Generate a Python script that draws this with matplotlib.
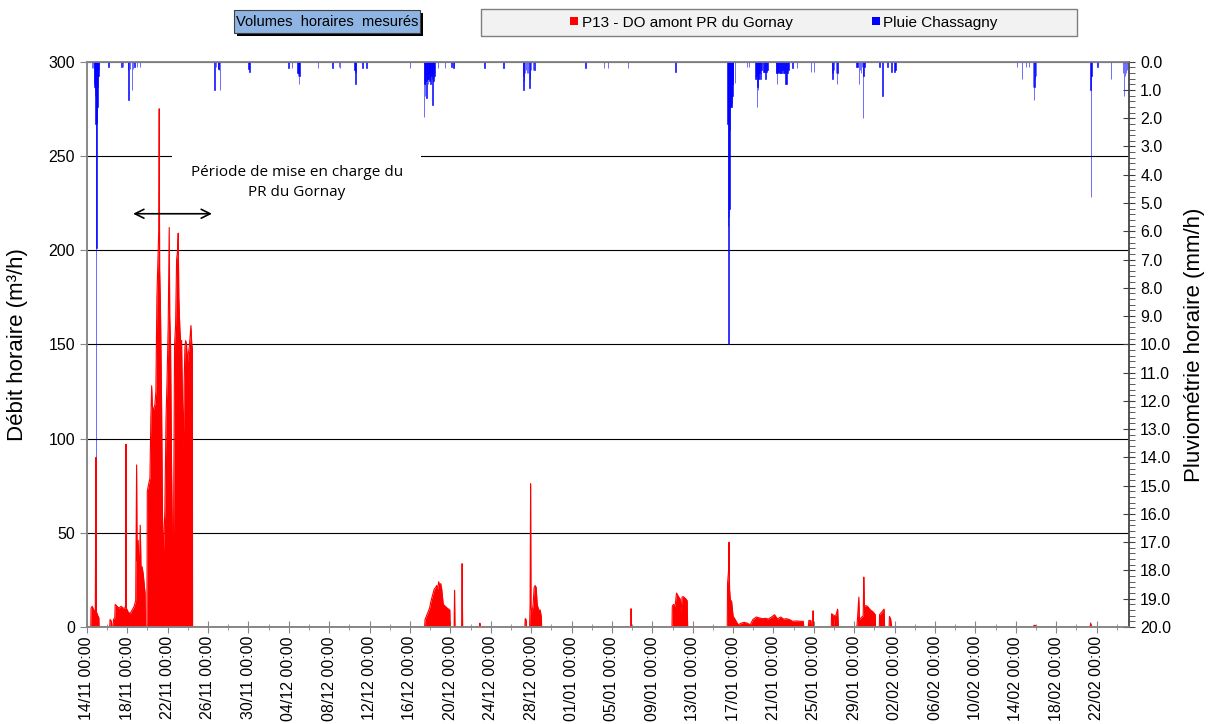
import datetime as dt
import numpy as np
import matplotlib
matplotlib.use('Agg')
import matplotlib.pyplot as plt
import matplotlib.dates as mdates
import matplotlib.ticker as ticker
from matplotlib.patches import Patch, Rectangle

plt.rcParams['font.family'] = ['Liberation Sans', 'DejaVu Sans']

debut = dt.datetime(2016, 11, 14)

# Débit P13 - DO amont PR du Gornay (jours depuis le 14/11 00:00 ; m3/h)
debit_jours = [
    0.40, 0.43, 0.55, 0.70, 0.85, 0.92, 0.96, 1.10, 1.20, 1.22,
    2.28, 2.31, 2.45, 2.50,
    2.62, 2.65, 2.78, 2.82, 3.00, 3.20, 3.40, 3.60, 3.80, 3.86, 3.89, 3.92, 4.10, 4.30, 4.50,
    4.70, 4.85, 4.94, 4.99, 5.10, 5.20, 5.30, 5.38, 5.48, 5.60, 5.70, 5.78, 5.82, 5.96,
    6.00, 6.10, 6.26, 6.35, 6.43, 6.50, 6.60, 6.75, 6.85, 6.95, 7.05, 7.13, 7.18, 7.22,
    7.30, 7.41, 7.50, 7.58, 7.66, 7.74, 7.85, 7.95, 8.07, 8.17, 8.22, 8.30, 8.40, 8.50,
    8.57, 8.62, 8.70, 8.80, 8.90, 9.00, 9.06, 9.12, 9.23, 9.32, 9.39, 9.48, 9.56, 9.65,
    9.72, 9.80, 9.88, 9.97, 10.05, 10.15, 10.25, 10.32, 10.40, 10.46, 10.48,
    33.45, 33.50, 33.65, 33.80, 33.95, 34.10, 34.25, 34.40, 34.55, 34.65, 34.75, 34.85,
    34.95, 35.05, 35.15, 35.30, 35.50, 35.70, 35.95, 35.98,
    36.38, 36.42, 36.46, 37.12, 37.17, 37.22, 38.90, 38.93, 38.97,
    43.38, 43.42, 43.50, 43.55, 43.85, 43.90, 43.95, 43.99, 44.10, 44.20, 44.30, 44.40,
    44.50, 44.60, 44.75, 44.90, 45.02, 45.04,
    53.86, 53.90, 53.94,
    57.95, 57.98, 58.10, 58.25, 58.40, 58.50, 58.60, 58.75, 58.85, 58.95, 59.10, 59.30,
    59.45, 59.50,
    63.42, 63.45, 63.55, 63.60, 63.65, 63.72, 63.85, 64.00, 64.20, 64.50, 64.80, 65.10,
    65.40, 65.70, 65.95, 66.30, 66.60, 66.90, 67.20, 67.50, 67.80, 68.10, 68.40, 68.70,
    69.00, 69.30, 69.60, 69.90, 70.30, 70.70, 70.95, 71.00,
    71.45, 71.50, 71.70, 71.75, 71.88, 71.92, 71.96,
    73.72, 73.75, 73.90, 73.98, 74.05, 74.20, 74.35, 74.42,
    76.25, 76.30, 76.45, 76.50, 76.70, 76.88, 76.94, 77.00, 77.15, 77.30, 77.45, 77.60,
    77.80, 77.95, 78.08, 78.10,
    78.48, 78.50, 78.70, 78.85, 78.95, 79.00,
    79.45, 79.48, 79.60, 79.70,
    93.70, 93.80, 93.95, 94.00,
    99.35, 99.40, 99.50,
]
debit_val = [
    0, 10, 11, 9, 8, 90, 8, 6, 5, 0,
    0, 4, 3, 0,
    0, 4, 5, 12, 11, 10, 11, 10, 10, 12, 97, 10, 8, 7, 9,
    11, 14, 86, 35, 46, 22, 54, 30, 32, 28, 22, 18, 0, 0,
    72, 75, 79, 110, 128, 117, 115, 118, 125, 175, 195, 210, 275, 190,
    170, 120, 60, 36, 50, 62, 110, 130, 160, 212, 165, 150, 85, 40,
    25, 70, 150, 160, 195, 200, 209, 175, 157, 150, 152, 120, 92, 130,
    148, 152, 150, 140, 145, 148, 155, 160, 150, 148, 0,
    0, 4, 6, 8, 10, 14, 17, 20, 21, 22, 20, 24,
    22, 23, 20, 12, 11, 10, 9, 0,
    0, 19.5, 0, 0, 33.6, 0, 0, 2, 0,
    0, 4.4, 4, 0, 0, 12, 76, 10, 8, 12, 21, 22,
    21, 12, 9, 9, 5, 0,
    0, 9.7, 0,
    0, 11, 12, 11, 18, 17, 16, 15, 8, 16, 16, 15,
    14, 0,
    0, 23, 30, 45, 20, 14.5, 13.6, 5.7, 4, 1.2, 2, 2.5,
    2, 1.2, 3.9, 5.3, 4.8, 4.4, 4.6, 4.2, 5.3, 6.5, 4.2, 5.3,
    4.2, 4.4, 3.9, 3.0, 3.2, 3.0, 3.0, 0,
    0, 3.5, 3.4, 0, 0, 8.6, 0,
    0, 7, 6.5, 0, 6, 6.5, 9.5, 0,
    0, 3, 15.9, 4, 5, 6, 26.5, 11, 11.3, 11, 10, 9,
    8.3, 7.4, 6.5, 0,
    0, 6.5, 7.8, 8.8, 9.5, 0,
    0, 5.6, 4.2, 0,
    0, 0.9, 0.8, 0,
    0, 2.1, 0,
]

# Pluie Chassagny (jours depuis le 14/11 00:00 ; mm/h)
pluie_jours = [
    0.55, 0.62, 0.72, 0.76, 0.80, 0.84, 0.88, 0.92, 0.96, 1.00, 1.04, 1.08, 1.12, 1.17, 1.22,
    2.14, 3.45, 3.62, 4.10, 4.15, 4.30, 4.47, 4.60, 4.75, 5.00, 5.30,
    12.65, 12.80, 13.00, 13.05, 13.10, 13.20,
    16.00, 16.10, 20.00, 20.30,
    20.85, 20.90, 20.95, 21.00, 21.05,
    22.90, 24.35, 25.00, 25.10,
    26.50, 26.55, 26.60, 26.65, 27.30, 27.70,
    32.00,
    33.40, 33.44, 33.48, 33.52, 33.56, 33.60, 33.64, 33.68, 33.72, 33.76, 33.80, 33.84,
    33.88, 33.92, 33.96, 34.00, 34.04, 34.08, 34.12, 34.16, 34.20, 34.24, 34.28, 34.32,
    34.36, 34.40, 34.45,
    34.80, 35.45, 36.10, 36.30, 36.35,
    39.40, 41.25,
    43.20, 43.25, 43.30, 43.40, 43.50, 43.60, 43.70, 43.85, 43.90, 44.00, 44.20, 44.35,
    49.40,
    51.20, 51.60, 53.60, 58.30,
    63.44, 63.48, 63.52, 63.56, 63.60, 63.64, 63.68, 63.72, 63.76, 63.80, 63.84, 63.88,
    63.92, 63.96, 64.00, 64.20,
    65.40, 65.60,
    66.20, 66.25, 66.30, 66.35, 66.40, 66.45, 66.50, 66.55, 66.60, 66.70, 66.80, 67.00,
    67.10, 67.20, 67.30, 67.40,
    68.25, 68.30, 68.35, 68.40, 68.50, 68.60, 68.70, 68.80, 68.90, 69.00, 69.10, 69.20,
    69.30, 69.40, 69.50,
    69.90, 70.30, 71.70, 72.00,
    73.80, 73.85, 73.90, 74.00, 74.20, 74.30, 74.35,
    76.20, 76.30, 76.45, 76.55, 76.65, 76.75, 76.85, 76.90, 77.00,
    78.50, 78.80, 79.30, 79.70, 80.00, 80.10,
    92.10, 92.60, 93.00, 93.30, 93.70, 93.80, 93.85, 93.90, 94.00,
    99.40, 99.45, 99.50, 100.10, 101.40, 102.60, 102.70, 102.80, 102.90, 103.00,
]
pluie_mm = [
    0.24, 0.24, 0.8, 0.9, 1.0, 1.2, 2.2, 14.0, 6.6, 2.2, 2.15, 1.6, 0.9, 0.5, 0.3,
    0.2, 0.2, 0.2, 0.3, 1.35, 0.25, 1.0, 0.25, 0.2, 0.2, 0.2,
    1.0, 0.2, 0.25, 0.25, 0.3, 1.0,
    0.25, 0.38, 0.24, 0.24,
    0.4, 0.5, 0.4, 0.8, 0.5,
    0.24, 0.24, 0.2, 0.24,
    0.3, 0.4, 0.8, 0.35, 0.24, 0.24,
    0.24,
    1.95, 0.8, 1.2, 0.8, 0.7, 0.5, 1.3, 0.7, 0.6, 0.6, 0.8, 0.6,
    0.5, 0.4, 0.7, 0.6, 0.8, 0.5, 0.5, 0.4, 0.6, 1.55, 0.6, 0.7,
    0.4, 0.3, 0.5,
    0.24, 0.24, 0.2, 0.24, 0.2,
    0.24, 0.24,
    0.5, 1.0, 0.7, 0.4, 0.3, 0.4, 0.4, 0.94, 0.6, 0.3, 0.3, 0.3,
    0.24,
    0.24, 0.24, 0.24, 0.35,
    2.2, 2.1, 5.8, 10.0, 5.5, 5.2, 1.6, 2.4, 1.6, 1.6, 1.6, 1.5,
    1.2, 0.8, 0.5, 0.77,
    0.2, 0.18,
    0.6, 0.6, 0.5, 1.6, 0.9, 1.0, 0.6, 0.6, 0.4, 0.6, 0.3, 0.35,
    0.35, 0.6, 0.35, 0.3,
    0.4, 0.4, 0.8, 0.4, 0.35, 0.4, 0.4, 0.4, 0.3, 0.4, 0.4, 0.8,
    0.8, 0.4, 0.3,
    0.24, 0.24, 0.35, 0.35,
    0.4, 0.6, 0.4, 0.3, 0.4, 0.8, 0.4,
    0.18, 0.18, 0.8, 0.3, 0.4, 0.2, 2.0, 0.5, 0.2,
    0.2, 1.2, 0.2, 0.35, 0.35, 0.3,
    0.2, 0.6, 0.2, 0.2, 0.9, 1.35, 0.9, 0.6, 0.5,
    1.0, 4.8, 0.5, 0.2, 0.6, 0.4, 1.2, 0.5, 0.4, 0.3,
]

t0 = mdates.date2num(debut)
x_debit = t0 + np.array(debit_jours)
x_pluie = t0 + np.array(pluie_jours)

gris = '#868686'

fig = plt.figure(figsize=(12.11, 7.24), dpi=100)
ax = fig.add_axes([0.0716, 0.134, 0.8607, 0.7808])
ax2 = ax.twinx()

ax.fill_between(x_debit, 0, debit_val, color='#ff0000', lw=0, zorder=2)
# contour pour que les pics d'une heure restent visibles (la partie à 0 est cachée par l'axe)
ax.plot(x_debit, debit_val, color='#ff0000', lw=0.8, zorder=2)
ax2.bar(x_pluie, pluie_mm, width=1 / 24, color='#0000ff', edgecolor='#0000ff', linewidth=0.4)

ax.set_xlim(t0, t0 + 103.2)
ax.set_ylim(0, 300)
ax2.set_ylim(20, 0)

ax.set_axisbelow(True)
ax.yaxis.grid(True, color='black', lw=0.8)
ax.yaxis.set_major_locator(ticker.MultipleLocator(50))
ax2.yaxis.set_major_locator(ticker.MultipleLocator(1))
ax2.yaxis.set_minor_locator(ticker.MultipleLocator(0.2))
ax2.yaxis.set_major_formatter(ticker.FormatStrFormatter('%.1f'))

ax.xaxis.set_major_locator(ticker.MultipleLocator(4, offset=t0 % 4))
ax.xaxis.set_minor_locator(ticker.MultipleLocator(2, offset=t0 % 2))
ax.xaxis.set_major_formatter(mdates.DateFormatter('%d/%m %H:%M'))

ax.tick_params(axis='x', which='major', direction='inout', length=9, color=gris,
               labelsize=11.5, labelrotation=90, pad=2)
ax.tick_params(axis='x', which='minor', direction='inout', length=5, color=gris)
ax.tick_params(axis='y', direction='out', length=5, color=gris, labelsize=11.5)
ax2.tick_params(axis='y', which='major', direction='inout', length=9, color='#404040', labelsize=11.5)
ax2.tick_params(axis='y', which='minor', direction='out', length=4, color='#404040')

for a in (ax, ax2):
    for s in a.spines.values():
        s.set_color(gris)
        s.set_linewidth(1.1)
        s.set_zorder(3)
ax2.spines['right'].set_color('#404040')

ax.set_ylabel('Débit horaire (m³/h)', fontsize=16)
ax.yaxis.set_label_coords(-0.0565, 0.5)
ax2.set_ylabel('Pluviométrie horaire (mm/h)', fontsize=16)
ax2.yaxis.set_label_coords(1.053, 0.5)

# annotation période de mise en charge
ax.text(t0 + 20.8, 236, 'Période de mise en charge du\nPR du Gornay', ha='center', va='center',
        fontsize=11, family=['Open Sans', 'DejaVu Sans'], linespacing=1.45, zorder=1,
        bbox=dict(boxstyle='square,pad=1.2', fc='white', ec='none'))
ax.annotate('', xy=(t0 + 4.6, 219.3), xytext=(t0 + 12.4, 219.3), zorder=3,
            arrowprops=dict(arrowstyle='<->', color='black', lw=1.2, mutation_scale=16,
                            shrinkA=0, shrinkB=0))

# titre "Volumes horaires mesurés" avec ombre
fig.add_artist(Rectangle((237 / 1211, 688 / 724), 186 / 1211, 23 / 724,
                         transform=fig.transFigure, fc='black', ec='none'))
fig.add_artist(Rectangle((234 / 1211, 691 / 724), 186 / 1211, 23 / 724,
                         transform=fig.transFigure, fc='#8db4e2', ec='#404040', lw=0.8))
fig.text(327 / 1211, 702.5 / 724, 'Volumes  horaires  mesurés', ha='center', va='center', fontsize=10.5)

# légende
fig.add_artist(Rectangle((481 / 1211, 688 / 724), 596 / 1211, 27 / 724,
                         transform=fig.transFigure, fc='#f2f2f2', ec='#7f7f7f', lw=1))
handles = [Patch(fc='#ff0000', ec='none'), Patch(fc='#0000ff', ec='none')]
fig.legend(handles, ['P13 - DO amont PR du Gornay', 'Pluie Chassagny'], ncol=2, loc='center',
           bbox_to_anchor=(784 / 1211, 701.5 / 724), frameon=False, fontsize=11,
           handlelength=0.5, handleheight=0.5, handletextpad=0.25, columnspacing=5.2)

fig.savefig('out.png', dpi=100)
